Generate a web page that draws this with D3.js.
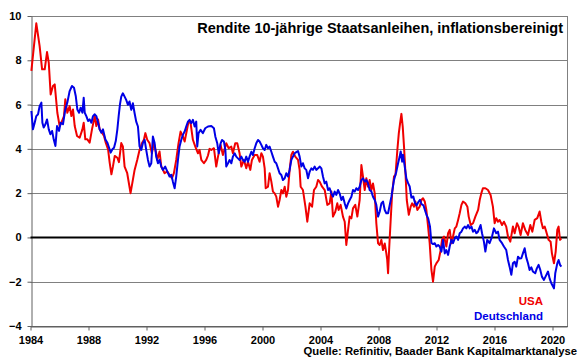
<!DOCTYPE html>
<html>
<head>
<meta charset="utf-8">
<script src="https://cdn.jsdelivr.net/npm/d3@7"></script>
<style>
  html, body { margin: 0; padding: 0; background: #ffffff; }
  svg { display: block; font-family: Arial, "Liberation Sans", sans-serif; }
</style>
</head>
<body>
<svg id="chart" width="580" height="359"></svg>
<script>
// ---- Data (decimal year, real yield in %) ----
const usaDates = [1984.06,1984.40,1984.63,1984.80,1984.98,1985.14,1985.26,1985.39,1985.55,1985.67,1985.85,1986.01,1986.13,1986.31,1986.40,1986.54,1986.70,1986.82,1986.93,1987.05,1987.21,1987.39,1987.58,1987.67,1987.78,1987.92,1988.08,1988.24,1988.43,1988.54,1988.66,1988.77,1988.93,1989.07,1989.19,1989.35,1989.46,1989.58,1989.69,1989.81,1989.99,1990.10,1990.26,1990.37,1990.49,1990.67,1990.90,1991.06,1991.18,1991.36,1991.52,1991.69,1991.82,1991.92,1992.05,1992.21,1992.37,1992.51,1992.67,1992.74,1992.90,1993.02,1993.25,1993.43,1993.59,1993.75,1993.89,1994.05,1994.21,1994.35,1994.51,1994.63,1994.79,1994.90,1995.04,1995.20,1995.36,1995.55,1995.66,1995.78,1995.96,1996.12,1996.24,1996.35,1996.47,1996.65,1996.81,1996.93,1997.11,1997.27,1997.50,1997.67,1997.85,1997.96,1998.12,1998.26,1998.42,1998.54,1998.72,1998.88,1999.00,1999.16,1999.27,1999.46,1999.64,1999.80,1999.92,2000.03,2000.15,2000.22,2000.38,2000.49,2000.61,2000.72,2000.84,2000.95,2001.07,2001.18,2001.30,2001.41,2001.53,2001.64,2001.76,2001.87,2001.99,2002.10,2002.26,2002.45,2002.56,2002.63,2002.79,2002.96,2003.09,2003.25,2003.42,2003.55,2003.71,2003.83,2003.94,2004.11,2004.29,2004.47,2004.63,2004.75,2004.86,2005.02,2005.16,2005.25,2005.39,2005.55,2005.67,2005.78,2005.90,2006.01,2006.13,2006.24,2006.40,2006.54,2006.70,2006.82,2006.93,2007.05,2007.16,2007.28,2007.39,2007.51,2007.62,2007.74,2007.85,2007.97,2008.08,2008.20,2008.31,2008.43,2008.54,2008.60,2008.66,2008.73,2008.84,2008.94,2009.07,2009.17,2009.30,2009.40,2009.49,2009.58,2009.67,2009.76,2009.86,2009.95,2010.09,2010.22,2010.32,2010.45,2010.54,2010.68,2010.84,2010.96,2011.07,2011.19,2011.30,2011.42,2011.53,2011.65,2011.76,2011.88,2011.99,2012.15,2012.29,2012.38,2012.52,2012.68,2012.80,2012.91,2013.03,2013.14,2013.26,2013.37,2013.49,2013.60,2013.72,2013.83,2013.99,2014.13,2014.22,2014.36,2014.52,2014.68,2014.87,2014.98,2015.09,2015.20,2015.37,2015.55,2015.73,2015.89,2016.01,2016.12,2016.24,2016.35,2016.52,2016.65,2016.81,2016.93,2017.09,2017.27,2017.39,2017.55,2017.66,2017.80,2017.96,2018.12,2018.31,2018.47,2018.61,2018.77,2018.95,2019.11,2019.23,2019.34,2019.46,2019.57,2019.73,2019.87,2019.96,2020.10,2020.22,2020.33,2020.42,2020.52,2020.61];
const usaYield = [7.52,9.67,8.64,7.59,7.59,8.37,7.89,6.46,6.84,6.91,5.63,5.03,5.18,5.48,6.24,5.63,5.93,5.48,5.78,5.03,4.58,4.50,4.88,5.18,4.43,4.43,4.28,4.88,5.48,5.03,5.33,4.88,4.73,4.58,4.28,3.98,3.38,2.85,3.22,3.68,3.60,3.40,4.26,4.11,3.20,2.90,2.00,2.60,3.05,3.50,3.95,4.26,4.41,4.71,4.41,4.26,3.80,4.26,3.80,3.50,3.88,3.20,2.90,2.98,2.83,2.67,2.90,3.50,4.26,4.78,4.56,4.33,4.86,5.23,5.16,4.41,4.11,3.80,3.95,3.50,3.35,3.50,3.70,4.00,3.95,4.03,3.20,3.65,4.18,3.72,4.25,4.03,4.10,3.80,4.25,4.25,3.80,3.20,3.50,3.12,3.42,3.05,3.50,3.72,3.72,3.42,3.80,3.65,3.12,2.22,2.29,2.90,2.52,2.07,1.99,1.84,1.39,1.69,2.14,1.99,2.29,1.84,2.14,3.05,3.72,3.87,3.65,3.50,3.05,2.29,2.14,1.39,0.71,1.54,1.39,2.14,2.29,2.59,2.52,2.29,2.14,1.47,1.54,2.07,0.94,1.16,1.54,1.24,1.47,0.94,0.71,-0.34,0.34,0.94,0.86,1.31,1.47,0.94,1.69,3.27,2.75,2.14,2.67,2.29,2.59,2.14,2.44,1.99,0.64,-0.27,-0.34,-0.11,-0.57,-0.27,-0.72,-1.00,-1.62,-0.57,0.79,1.99,2.75,2.82,3.95,4.70,5.16,5.58,5.01,4.10,2.90,1.69,1.02,1.39,1.54,1.39,1.62,1.24,1.39,1.69,1.77,1.62,1.24,0.49,-0.26,-1.47,-2.00,-1.32,-1.17,-1.02,-0.57,-0.11,0.04,-0.41,0.19,0.34,-0.26,0.04,0.41,0.49,0.79,1.09,1.47,1.62,1.54,1.39,0.94,0.56,0.64,0.94,1.24,1.69,1.99,2.22,2.22,2.14,1.92,1.39,0.64,0.87,0.71,0.79,0.56,0.71,0.49,0.04,-0.19,0.49,0.19,0.64,0.49,0.11,0.64,0.34,0.11,0.56,0.26,0.79,0.87,1.17,0.71,0.41,0.49,0.26,-0.11,-0.19,-0.72,-1.17,-0.64,0.34,0.49,-0.11,-0.04];

const deDates = [1984.06,1984.17,1984.29,1984.40,1984.52,1984.63,1984.75,1984.82,1984.91,1985.03,1985.14,1985.26,1985.37,1985.49,1985.60,1985.72,1985.83,1985.97,1986.08,1986.24,1986.40,1986.54,1986.70,1986.86,1987.00,1987.12,1987.23,1987.35,1987.46,1987.58,1987.67,1987.74,1987.85,1987.97,1988.08,1988.20,1988.31,1988.43,1988.54,1988.66,1988.77,1988.89,1989.00,1989.16,1989.30,1989.42,1989.53,1989.65,1989.76,1989.88,1989.99,1990.08,1990.17,1990.26,1990.37,1990.49,1990.60,1990.72,1990.83,1990.95,1991.06,1991.18,1991.29,1991.41,1991.52,1991.64,1991.75,1991.87,1991.98,1992.10,1992.21,1992.33,1992.44,1992.56,1992.67,1992.79,1992.90,1993.02,1993.13,1993.29,1993.43,1993.59,1993.71,1993.82,1993.94,1994.05,1994.17,1994.28,1994.40,1994.51,1994.63,1994.74,1994.86,1994.97,1995.09,1995.20,1995.32,1995.43,1995.50,1995.59,1995.73,1995.89,1996.05,1996.24,1996.47,1996.65,1996.75,1996.88,1996.98,1997.11,1997.21,1997.34,1997.44,1997.50,1997.62,1997.73,1997.85,1997.96,1998.08,1998.19,1998.31,1998.42,1998.54,1998.65,1998.77,1998.88,1999.00,1999.11,1999.23,1999.34,1999.46,1999.57,1999.69,1999.80,1999.92,2000.03,2000.15,2000.26,2000.38,2000.49,2000.61,2000.72,2000.84,2000.95,2001.07,2001.18,2001.30,2001.41,2001.53,2001.64,2001.76,2001.87,2001.99,2002.10,2002.22,2002.33,2002.45,2002.56,2002.68,2002.79,2002.91,2003.02,2003.14,2003.25,2003.37,2003.48,2003.60,2003.71,2003.83,2003.94,2004.06,2004.17,2004.29,2004.40,2004.52,2004.63,2004.75,2004.86,2004.98,2005.09,2005.21,2005.32,2005.44,2005.55,2005.67,2005.78,2005.90,2006.01,2006.13,2006.24,2006.36,2006.47,2006.59,2006.70,2006.82,2006.93,2007.05,2007.16,2007.28,2007.39,2007.51,2007.62,2007.74,2007.85,2007.97,2008.08,2008.20,2008.31,2008.43,2008.54,2008.66,2008.89,2009.07,2009.23,2009.35,2009.46,2009.53,2009.63,2009.69,2009.81,2009.92,2010.04,2010.15,2010.27,2010.40,2010.52,2010.63,2010.75,2010.86,2010.97,2011.10,2011.20,2011.32,2011.43,2011.55,2011.65,2011.76,2011.88,2011.99,2012.11,2012.22,2012.34,2012.45,2012.57,2012.68,2012.80,2012.91,2013.03,2013.14,2013.26,2013.37,2013.49,2013.60,2013.72,2013.83,2013.95,2014.06,2014.18,2014.29,2014.41,2014.52,2014.64,2014.75,2014.86,2015.04,2015.14,2015.27,2015.37,2015.50,2015.66,2015.83,2015.96,2016.12,2016.24,2016.35,2016.52,2016.65,2016.81,2016.93,2017.04,2017.16,2017.27,2017.39,2017.50,2017.62,2017.73,2017.85,2017.96,2018.08,2018.19,2018.31,2018.42,2018.54,2018.65,2018.81,2018.92,2019.04,2019.15,2019.27,2019.41,2019.57,2019.69,2019.80,2019.92,2020.10,2020.19,2020.33,2020.42,2020.52,2020.61];
const deYield = [5.71,4.88,5.18,5.48,5.56,5.93,6.09,5.18,4.96,5.11,5.33,4.88,4.66,4.81,4.43,4.13,5.03,4.81,5.18,5.11,5.78,6.09,6.61,6.84,6.76,6.39,5.78,5.63,5.86,5.63,6.31,5.63,5.48,5.26,5.33,5.18,5.48,5.56,5.48,5.18,4.88,4.73,4.88,4.43,4.28,4.05,3.83,3.98,4.05,4.35,4.88,5.48,6.01,6.36,6.51,6.36,6.21,5.99,6.14,5.76,6.06,5.61,5.23,5.01,4.11,3.95,4.26,4.41,3.95,3.50,3.20,3.35,4.56,4.26,3.65,3.35,3.50,3.20,3.05,3.20,2.98,2.75,2.83,2.52,2.22,2.75,3.50,4.11,4.41,4.63,4.78,5.01,5.23,5.31,5.16,5.31,5.01,5.23,4.11,4.71,4.86,4.71,4.93,5.01,5.03,4.93,4.55,4.25,3.80,4.25,4.40,4.33,3.95,3.20,3.35,3.50,3.35,3.65,3.80,3.65,3.57,3.50,3.65,3.50,3.42,3.65,3.42,3.65,3.87,3.72,4.03,4.25,4.40,4.33,4.18,4.03,3.95,4.18,4.03,4.10,3.87,3.65,3.42,3.35,3.12,2.90,2.82,2.59,2.67,2.90,2.75,3.05,3.50,3.65,3.80,3.85,3.90,3.65,3.20,3.35,3.12,3.05,2.67,2.97,3.12,3.05,3.20,3.05,3.12,3.20,3.12,2.75,2.44,2.52,2.14,2.22,1.99,1.84,2.07,1.92,2.14,1.99,1.69,1.84,1.54,1.31,1.54,1.69,1.84,2.14,2.07,2.22,2.14,2.29,2.59,2.67,2.52,2.59,2.44,2.14,2.07,1.84,1.69,1.47,0.94,1.16,1.54,1.62,1.24,1.09,1.09,1.84,2.60,2.97,3.35,3.65,3.88,3.42,3.73,3.20,2.67,2.45,2.30,1.80,1.85,1.55,1.45,1.60,1.70,1.50,1.45,1.24,1.00,0.85,0.50,-0.25,-0.30,-0.26,-0.41,-0.34,-0.41,-0.64,-0.11,-0.72,-0.57,-0.79,-0.41,-0.11,-0.26,-0.04,0.04,-0.11,0.19,0.26,0.41,0.49,0.41,0.56,0.41,0.49,0.26,0.34,0.19,0.26,0.56,0.19,-0.19,-0.64,-0.11,-0.26,0.04,0.41,0.19,0.26,-0.11,-0.26,-0.41,-0.57,-1.02,-1.32,-1.69,-1.17,-1.10,-1.32,-0.87,-0.95,-0.94,-0.72,-0.49,-0.90,-1.17,-1.47,-1.35,-1.54,-1.62,-1.40,-1.24,-1.45,-1.77,-1.92,-1.70,-1.54,-1.85,-2.07,-2.30,-1.62,-1.17,-1.02,-1.24,-1.32];

const yTicks = [-4, -2, 0, 2, 4, 6, 8, 10];
const xTicks = [1984, 1988, 1992, 1996, 2000, 2004, 2008, 2012, 2016, 2020];
const titleText = "Rendite 10-jährige Staatsanleihen, inflationsbereinigt";
const sourceText = "Quelle: Refinitiv, Baader Bank Kapitalmarktanalyse";
const seriesNames = ["USA", "Deutschland"];

// ---- Layout ----
const L = 30.5, R = 567, T = 16, B = 326;
const svg = d3.select("#chart");
const x = d3.scaleLinear().domain([1984, 2021]).range([L, R]);
const y = d3.scaleLinear().domain([-4, 10]).range([B, T]);
const font = 'Arial, "Liberation Sans", sans-serif';

// gridlines
svg.append("g").selectAll("line")
  .data(yTicks.filter(v => v !== 0 && v !== -4))
  .join("line")
  .attr("x1", L).attr("x2", R)
  .attr("y1", d => Math.round(y(d)) + 0.5).attr("y2", d => Math.round(y(d)) + 0.5)
  .attr("stroke", "#808080").attr("stroke-width", 1);

// right border
svg.append("line").attr("x1", R + 0.5).attr("x2", R + 0.5).attr("y1", T).attr("y2", B)
  .attr("stroke", "#808080").attr("stroke-width", 1);

// axes
const yAxis = d3.axisLeft(y).tickValues(yTicks).tickSize(4).tickSizeOuter(0).tickPadding(6).tickFormat(d3.format("d"));
const gy = svg.append("g").attr("transform", `translate(${Math.round(L) + 0.5},0)`).call(yAxis);
const xAxis = d3.axisBottom(x).tickValues(xTicks).tickSize(4).tickSizeOuter(0).tickPadding(6).tickFormat(d3.format("d"));
const gx = svg.append("g").attr("transform", `translate(0,${Math.round(B) + 0.5})`).call(xAxis);
[gy, gx].forEach(g => {
  g.selectAll("path.domain").attr("stroke", "#606060");
  g.selectAll(".tick line").attr("stroke", "#606060");
  g.selectAll("text").attr("font-family", font).attr("font-size", "11px")
    .attr("font-weight", "bold").attr("fill", "#000");
});
// extend x domain line to right border
svg.append("line").attr("x1", L).attr("x2", R + 1).attr("y1", Math.round(B) + 0.5).attr("y2", Math.round(B) + 0.5)
  .attr("stroke", "#606060");

// zero line
svg.append("line").attr("x1", L).attr("x2", R)
  .attr("y1", y(0)).attr("y2", y(0))
  .attr("stroke", "#000").attr("stroke-width", 2);

// lines
const line = d3.line().x(d => x(d[0])).y(d => y(d[1]));
const usa = usaDates.map((d, i) => [d, usaYield[i]]);
const de = deDates.map((d, i) => [d, deYield[i]]);
svg.append("path").datum(usa).attr("d", line)
  .attr("fill", "none").attr("stroke", "#f00000").attr("stroke-width", 2).attr("stroke-linejoin", "round");
svg.append("path").datum(de).attr("d", line)
  .attr("fill", "none").attr("stroke", "#0000e6").attr("stroke-width", 2).attr("stroke-linejoin", "round");

// title
svg.append("text").attr("x", 563).attr("y", 33).attr("text-anchor", "end")
  .attr("font-family", font).attr("font-size", "14.5px").attr("font-weight", "bold")
  .attr("fill", "#000").text(titleText);

// legend labels
svg.append("text").attr("x", 543).attr("y", 305).attr("text-anchor", "end")
  .attr("font-family", font).attr("font-size", "11.5px").attr("font-weight", "bold")
  .attr("fill", "#f00000").text(seriesNames[0]);
svg.append("text").attr("x", 543).attr("y", 320).attr("text-anchor", "end")
  .attr("font-family", font).attr("font-size", "11.5px").attr("font-weight", "bold")
  .attr("fill", "#0000e6").text(seriesNames[1]);

// source
svg.append("text").attr("x", 577).attr("y", 355).attr("text-anchor", "end")
  .attr("font-family", font).attr("font-size", "11.3px").attr("font-weight", "bold")
  .attr("fill", "#000").text(sourceText);
</script>
</body>
</html>
